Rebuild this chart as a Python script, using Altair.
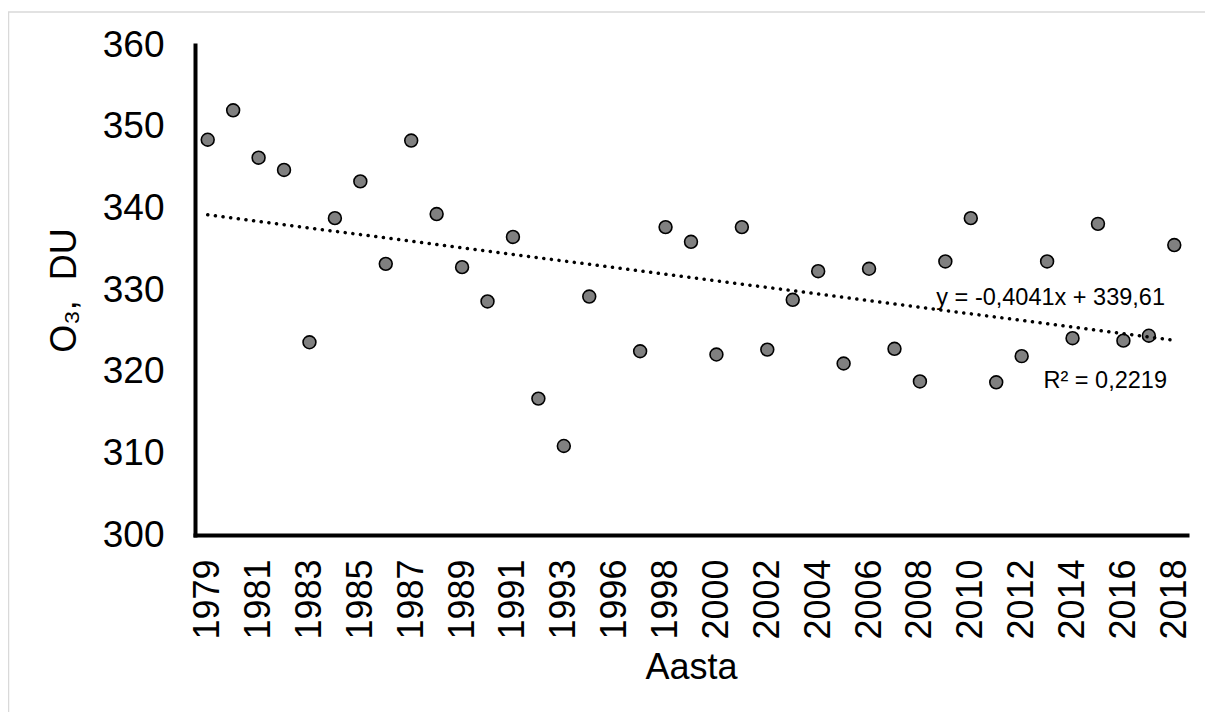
import altair as alt
import pandas as pd

# ---- data ----
years = [str(y) for y in range(1979, 1995)] + [str(y) for y in range(1996, 2019)]
ozone = [348.4, 352.0, 346.2, 344.7, 323.6, 338.8, 343.3, 333.2, 348.3, 339.3,
         332.8, 328.6, 336.5, 316.7, 310.9, 329.2,
         None,
         322.5, 337.7, 335.9, 322.1, 337.7, 322.7, 328.8, 332.3, 321.0,
         332.6, 322.8, 318.8, 333.5, 338.8, 318.7, 321.9, 333.5, 324.1,
         338.1, 323.8, 324.4, 335.5]
tick_years = ["1979", "1981", "1983", "1985", "1987", "1989", "1991", "1993",
              "1996", "1998", "2000", "2002", "2004", "2006", "2008", "2010",
              "2012", "2014", "2016", "2018"]
y_ticks = [300, 310, 320, 330, 340, 350, 360]
trend_years = ["1979", "2018"]
trend_values = [339.21, 323.85]
equation_text = "y = -0,4041x + 339,61"
r2_text = "R² = 0,2219"

df = pd.DataFrame({"Aasta": years, "O3": ozone})
trend_df = pd.DataFrame({"Aasta": trend_years, "O3": trend_values})

FONT = "Liberation Sans"

x_scale = alt.Scale(domain=years, type="point", padding=0.5)
y_scale = alt.Scale(domain=[300, 360], nice=False, zero=False)

x_axis = alt.Axis(
    title="Aasta", values=tick_years, labelAngle=270,
    labelFont=FONT, labelFontSize=36, labelColor="black", labelPadding=24,
    ticks=False, tickSize=0, grid=False,
    domainColor="black", domainWidth=4, domainCap="square",
    titleFont=FONT, titleFontSize=36, titleFontWeight="normal",
    titleColor="black", titlePadding=11,
)
y_axis = alt.Axis(
    title="O₃,\u00a0 DU", values=y_ticks,
    labelFont=FONT, labelFontSize=37, labelColor="black", labelPadding=31,
    ticks=False, tickSize=0, grid=False,
    domainColor="black", domainWidth=4, domainCap="square",
    titleFont=FONT, titleFontSize=36, titleFontWeight="normal",
    titleColor="black", titlePadding=19,
)

border = alt.Chart(alt.Data(values=[{}])).mark_rect(
    filled=False, stroke="#d9d9d9", strokeWidth=1.5
).encode(
    x=alt.value(-186.5), x2=alt.value(3000),
    y=alt.value(-33), y2=alt.value(3000),
)

points = alt.Chart(df).mark_circle(
    size=165, color="#808080", opacity=1, stroke="black", strokeWidth=1.6
).encode(
    x=alt.X("Aasta:O", scale=x_scale, axis=x_axis),
    y=alt.Y("O3:Q", scale=y_scale, axis=y_axis),
)

trend = alt.Chart(trend_df).mark_line(
    color="black", strokeWidth=3.5, strokeDash=[0.1, 7.6], strokeCap="round"
).encode(
    x=alt.X("Aasta:O", scale=x_scale),
    y=alt.Y("O3:Q", scale=y_scale),
)

eq = alt.Chart(alt.Data(values=[{"t": equation_text}])).mark_text(
    align="right", baseline="alphabetic", font=FONT, fontSize=23.5, color="black"
).encode(x=alt.value(970), y=alt.value(260), text="t:N")

r2 = alt.Chart(alt.Data(values=[{"t": r2_text}])).mark_text(
    align="right", baseline="alphabetic", font=FONT, fontSize=23.5, color="black"
).encode(x=alt.value(972), y=alt.value(343), text="t:N")

chart = alt.layer(border, points, trend, eq, r2).properties(
    width=992, height=490,
    padding={"left": 187, "top": 37, "right": 18, "bottom": 177},
    autosize=alt.AutoSizeParams(type="none"),
    background="white",
).configure_view(strokeWidth=0)

chart.save("out.html", embed_options={"renderer": "svg", "actions": False})
